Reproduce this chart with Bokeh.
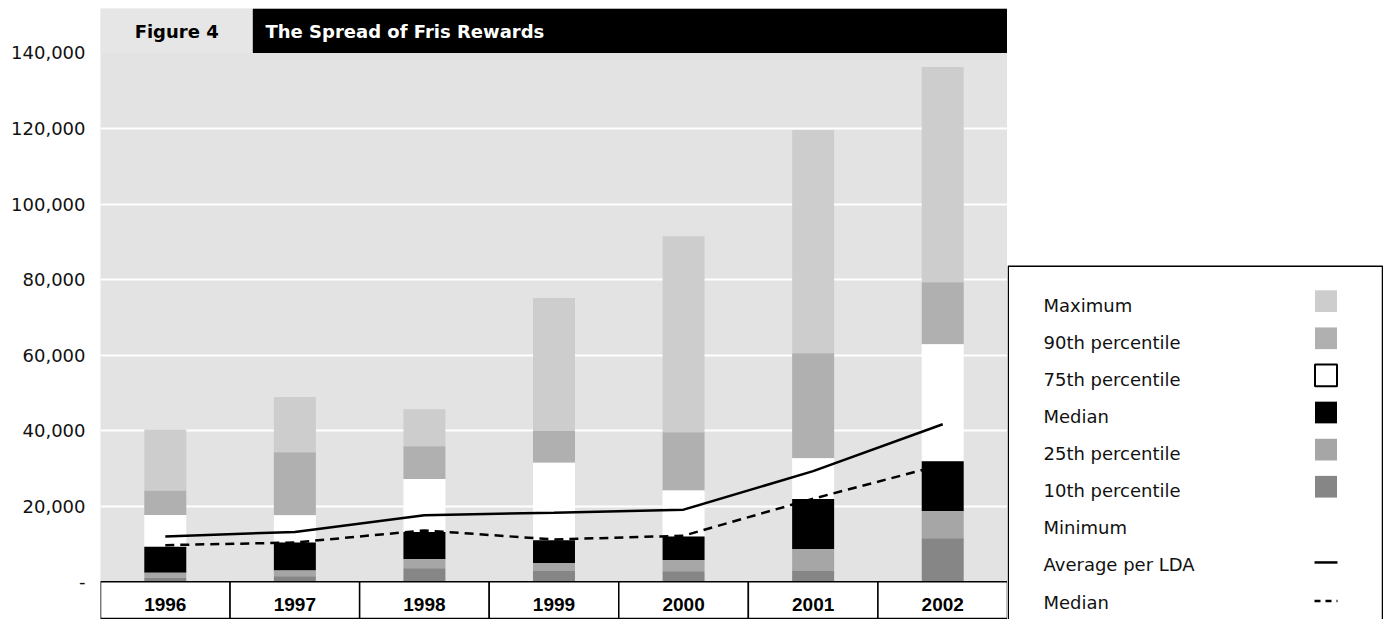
import numpy as np
from bokeh.plotting import figure
from bokeh.models import Range1d, FixedTicker
from bokeh.layouts import row
from bokeh.core.properties import value
from bokeh.embed import file_html
from bokeh.resources import INLINE

# ---------------- data ----------------
years = ["1996", "1997", "1998", "1999", "2000", "2001", "2002"]
p10 = [1100, 1500, 3600, 3000, 2800, 3000, 11500]
p25 = [2400, 3000, 6000, 4900, 5700, 8600, 18700]
median = [9300, 10400, 13200, 11000, 12000, 21900, 31900]
p75 = [17700, 17600, 27200, 31500, 24200, 32700, 62900]
p90 = [24100, 34300, 35900, 39900, 39600, 60500, 79300]
maximum = [40300, 48900, 45700, 75100, 91500, 119600, 136300]
average_per_lda = [12000, 13200, 17600, 18300, 19100, 29300, 41700]
median_line = [9700, 10400, 13600, 11200, 12200, 22000, 31000]

y_ticks = [0, 20000, 40000, 60000, 80000, 100000, 120000, 140000]
y_tick_labels = ["-", "20,000", "40,000", "60,000", "80,000", "100,000", "120,000", "140,000"]

figure_label = "Figure 4"
title_text = "The Spread of Fris Rewards"

legend_labels = ["Maximum", "90th percentile", "75th percentile", "Median",
                 "25th percentile", "10th percentile", "Minimum",
                 "Average per LDA", "Median"]
segment_colors = ["#cdcdcd", "#b0b0b0", "#ffffff", "#000000", "#a6a6a6", "#868686"]

# ---------------- geometry ----------------
TOP = 8                   # white strip above the frame
FH = 611                  # frame height
H = TOP + FH
PX_PER_20K = 75.55
VAL_PER_PX = 20000 / PX_PER_20K
GROUND = 573.3            # frame-relative pixel row of value 0
y_end = GROUND * VAL_PER_PX
y_start = -(FH - GROUND) * VAL_PER_PX

def yv(screen_px):
    return (GROUND + TOP - screen_px) * VAL_PER_PX

n = len(years)
x = np.arange(n) + 0.5

p = figure(width=1007, height=H, x_range=Range1d(0, n), y_range=Range1d(y_start, y_end),
           x_axis_location=None, output_backend="svg", toolbar_location=None,
           min_border_left=100, min_border_right=0, min_border_top=TOP, min_border_bottom=0)
p.outline_line_color = None
p.background_fill_color = "#e3e3e3"
p.border_fill_color = "white"

p.yaxis.ticker = FixedTicker(ticks=y_ticks)
p.yaxis.major_label_overrides = {t: l for t, l in zip(y_ticks, y_tick_labels)}
p.yaxis.axis_line_color = None
p.yaxis.major_tick_line_color = None
p.yaxis.minor_tick_line_color = None
p.yaxis.major_tick_out = 0
p.yaxis.major_tick_in = 0
p.yaxis.major_label_standoff = 15
p.yaxis.major_label_text_font = "DejaVu Sans"
p.yaxis.major_label_text_font_size = "18px"
p.yaxis.major_label_text_color = "#111111"

p.xgrid.visible = False
p.ygrid.ticker = FixedTicker(ticks=y_ticks[1:-1])
p.ygrid.grid_line_color = "white"
p.ygrid.grid_line_width = 2

# stacked percentile segments
tops = [maximum, p90, p75, median, p25, p10]
bottoms = [p90, p75, median, p25, p10, [0] * n]
bar_w = 0.324
for top, bot, col in zip(tops, bottoms, segment_colors):
    p.vbar(x=x, width=bar_w, top=top, bottom=bot, fill_color=col, line_color=None)

# lines
p.line(x, average_per_lda, line_color="black", line_width=2.5)
p.line(x, median_line, line_color="black", line_width=2.5, line_dash="9 6")

# title bar
split = 1.1755
p.quad(left=[0], right=[split], bottom=[140000], top=[y_end], fill_color="#e6e6e6", line_color=None)
p.quad(left=[split], right=[n], bottom=[140000], top=[y_end], fill_color="black", line_color=None)
p.text(x=[split / 2], y=[yv(30.5)], text=[figure_label], text_font=value("DejaVu Sans"),
       text_font_style="bold", text_font_size="18px", text_color="black",
       text_align="center", text_baseline="middle")
p.text(x=[split + 0.098], y=[yv(30.5)], text=[title_text], text_font=value("DejaVu Sans"),
       text_font_style="bold", text_font_size="18px", text_color="white",
       text_align="left", text_baseline="middle")

# category cells below the bars
cell_bottom = yv(618)
p.quad(left=np.arange(n), right=np.arange(n) + 1, top=[0] * n, bottom=[cell_bottom] * n,
       fill_color="white", line_color="black", line_width=1.5)
p.text(x=x, y=[yv(603.5)] * n, text=years, text_font=value("Liberation Sans"),
       text_font_style="bold", text_font_size="19px", text_color="black",
       text_align="center", text_baseline="middle")

# ---------------- legend panel ----------------
LW = 376
lg = figure(width=LW, height=H, x_range=Range1d(0, LW), y_range=Range1d(H, 0),
            x_axis_location=None, y_axis_location=None, output_backend="svg",
            toolbar_location=None, min_border=0)
lg.outline_line_color = None
lg.grid.visible = False
lg.background_fill_color = "white"
lg.border_fill_color = "white"

lg.quad(left=[0.75], right=[375], top=[261], bottom=[H + 5], fill_color="white",
        line_color="black", line_width=1.5)

step = 37.6
label_y = [300.5 + step * i for i in range(len(legend_labels))]
lg.text(x=[36] * len(legend_labels), y=label_y, text=legend_labels,
        text_font=value("DejaVu Sans"), text_font_size="18px", text_color="#111111",
        text_align="left", text_baseline="middle")

sw_y = [296.5 + step * i for i in range(len(segment_colors))]
sw_line = ["#cdcdcd", "#b0b0b0", "black", "#000000", "#a6a6a6", "#868686"]
sw_lw = [0, 0, 2, 0, 0, 0]
for yy, fc, lc, lw_ in zip(sw_y, segment_colors, sw_line, sw_lw):
    lg.rect(x=[318.5], y=[yy], width=22, height=22, fill_color=fc,
            line_color=lc if lw_ else None, line_width=max(lw_, 1))

lg.line([307, 330], [label_y[7] - 2.5, label_y[7] - 2.5], line_color="black", line_width=2.5)
lg.line([307, 330], [label_y[8] - 1, label_y[8] - 1], line_color="black", line_width=2.5,
        line_dash="6 5")

layout = row(p, lg, spacing=0)
open("out.html", "w").write(file_html(layout, INLINE))
